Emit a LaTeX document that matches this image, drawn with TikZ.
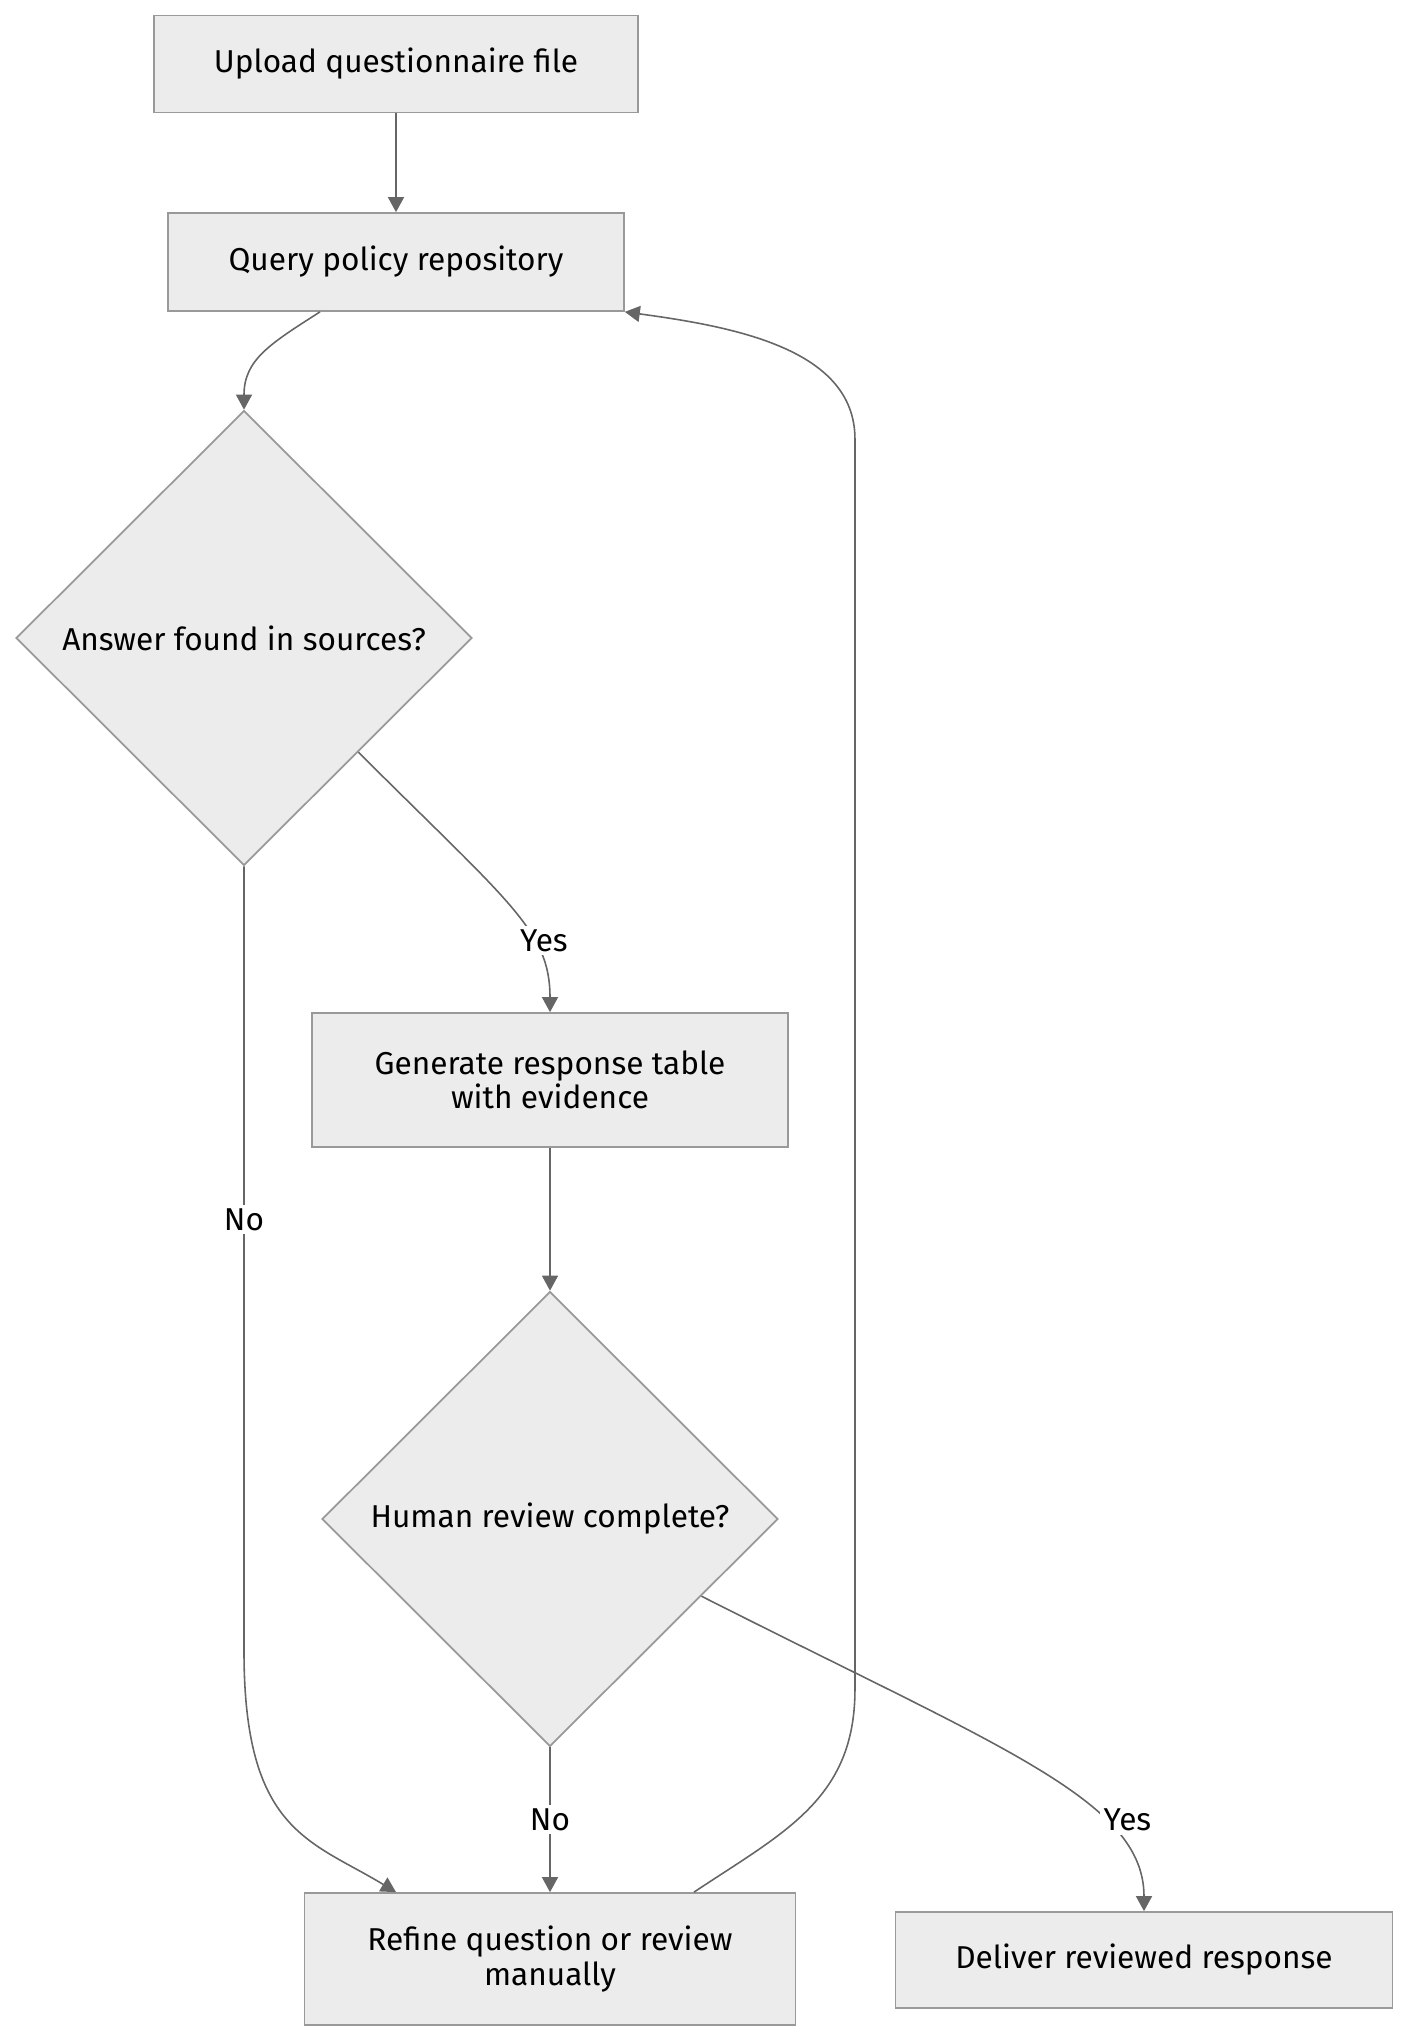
\documentclass[tikz,border=0pt]{standalone}
\usepackage{fontspec}
\setsansfont{Fira Sans}
\usetikzlibrary{arrows.meta,shapes.geometric}
\definecolor{nodefill}{HTML}{ECECEC}
\definecolor{nodeline}{HTML}{999999}
\definecolor{edgeline}{HTML}{666666}

\begin{document}
\begin{tikzpicture}[x=0.02cm, y=-0.02cm, font=\sffamily\fontsize{18}{19.5}\selectfont, >={Triangle[length=3mm,width=3.2mm]}, box/.style={draw=nodeline, fill=nodefill, line width=1pt, align=center, inner sep=0pt}, dec/.style={diamond, draw=nodeline, fill=nodefill, line width=1pt, align=center, inner sep=0pt, minimum width=9.12cm, minimum height=9.1cm}, arrow/.style={->, draw=edgeline, line width=0.9pt}, lbl/.style={fill=white, text=black, inner sep=2pt}]
\useasboundingbox (0,0) rectangle (1407,2042);
\node[box, minimum width=9.68cm, minimum height=1.94cm] (upload) at (396,64) {Upload questionnaire file};
\node[box, minimum width=9.12cm, minimum height=1.96cm] (query) at (396,262) {Query policy repository};
\node[dec] (found) at (244,638) {Answer found in sources?};
\node[box, minimum width=9.52cm, minimum height=2.68cm] (gen) at (550,1080) {Generate response table\\with evidence};
\node[dec] (review) at (550,1519) {Human review complete?};
\node[box, minimum width=9.82cm, minimum height=2.64cm] (refine) at (550,1959) {Refine question or review\\manually};
\node[box, minimum width=9.94cm, minimum height=1.92cm] (deliver) at (1144,1960) {Deliver reviewed response};
\draw[arrow] (upload) -- (query);
\draw[arrow] ([xshift=-1.52cm]query.south) .. controls +(-50,32) and +(0,-50) .. (found.north);
\draw[arrow] (found.south east) .. controls +(150,150) and +(0,-82) .. node[lbl, pos=0.66, xshift=0.22cm]{Yes} (gen.north);
\draw[arrow] (found.south) -- node[lbl, pos=0.45]{No} ++(0,785) .. controls +(0,180) and +(-86,-52) .. ([xshift=-3.08cm]refine.north);
\draw[arrow] (gen) -- (review);
\draw[arrow] (review) -- node[lbl]{No} (refine);
\draw[arrow] (review.-27) .. controls +(300,152) and +(0,-111) .. node[lbl, pos=0.69, xshift=0.5cm]{Yes} (deliver.north);
\draw[arrow] ([xshift=2.88cm]refine.north) .. controls +(90,-60) and +(0,110) .. ++(161,-203) -- ++(0,-1250) .. controls +(0,-90) and +(110,15) .. (query.south east);
\end{tikzpicture}
\end{document}
